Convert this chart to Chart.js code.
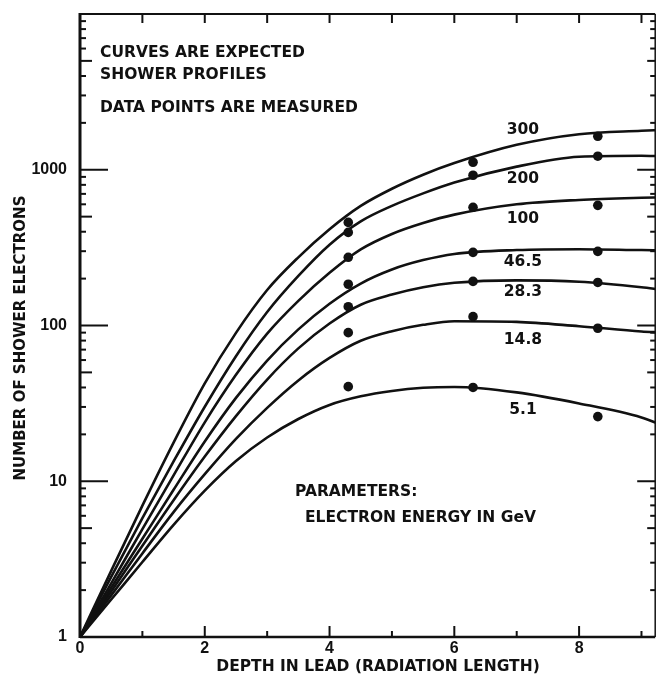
<!DOCTYPE html>
<html>
<head>
<meta charset="utf-8">
<script src="https://cdn.jsdelivr.net/npm/chart.js@4"></script>
<style>
  html, body { margin: 0; padding: 0; background: #fff; }
</style>
</head>
<body>
<canvas id="chart" width="660" height="674"></canvas>
<script>
// =======================
// DATA
// =======================

// depth in lead, radiation lengths
const depth = [0, 0.5, 1, 1.5, 2, 2.5, 3, 3.5, 4, 4.5, 5, 5.5, 6, 7, 8, 9, 9.3];

// expected shower profiles, number of electrons at each depth
const curve300 = [1, 2.66, 6.97, 17.7, 42.5, 89.7, 169, 274, 415, 586, 755, 929, 1104, 1445, 1690, 1778, 1799];
const curve200 = [1, 2.43, 5.79, 13.4, 30.1, 63.5, 122, 208, 330, 466, 586, 705, 828, 1047, 1211, 1230, 1222];
const curve100 = [1, 2.21, 4.93, 10.9, 23.9, 48.2, 88.7, 144, 218, 308, 387, 455, 515, 600, 640, 661, 665];
const curve46 = [1, 2.07, 4.27, 8.81, 18.0, 34.3, 59.6, 94.4, 138, 186, 229, 263, 288, 305, 309, 305, 304];
const curve28 = [1, 1.96, 3.85, 7.55, 14.4, 26.2, 45.0, 71.3, 103, 136, 158, 176, 188, 195, 191, 176, 170];
const curve14 = [1, 1.85, 3.44, 6.34, 11.1, 18.7, 29.6, 44.4, 61.9, 79.8, 92, 101, 106.5, 105.5, 98.9, 91.6, 90.2];
const curve5 = [1, 1.74, 3.03, 5.25, 8.71, 13.5, 19.1, 25.1, 30.9, 35.1, 38.0, 39.8, 40.3, 37.2, 31.6, 25.7, 23.2];

// measured data points
const pointDepth = [4.3, 6.3, 8.3];
const meas300 = [459, 1117, 1641];
const meas200 = [396, 922, 1222];
const meas100 = [274, 574, 591];
const meas46 = [184, 295, 299];
const meas28 = [132, 192, 189];
const meas14 = [90, 114, 96];
const meas5 = [40.5, 40, 26];

// energy labels next to the curves (GeV)
const energies = ["300", "200", "100", "46.5", "28.3", "14.8", "5.1"];
const labelDepth = 7.1;
const labelLevel = [1795, 869, 481, 254, 163, 81.3, 28.8];

const xTicks = [0, 2, 4, 6, 8];
const yTicks = [1, 10, 100, 1000];

const ink = "#111";
const textFont = "bold 15.5px 'DejaVu Sans'";

// =======================
// DATASETS
// =======================

const curves = [curve300, curve200, curve100, curve46, curve28, curve14, curve5];
const measured = [meas300, meas200, meas100, meas46, meas28, meas14, meas5];

let dots = [];
measured.forEach(m => {
  m.forEach((v, i) => dots.push({ x: pointDepth[i], y: v }));
});

let datasets = [{
  label: "measured",
  data: dots,
  pointRadius: 4.8,
  pointBackgroundColor: ink,
  pointBorderColor: ink,
  pointBorderWidth: 0,
  showLine: false
}];

curves.forEach((c, k) => {
  datasets.push({
    label: energies[k] + " GeV",
    data: c.map((v, i) => ({ x: depth[i], y: v })),
    showLine: true,
    pointRadius: 0,
    borderColor: ink,
    borderWidth: 2.6,
    cubicInterpolationMode: "monotone"
  });
});

// =======================
// FRAME, TICKS AND TEXT
// =======================

const frame = {
  id: "frame",
  afterDraw(chart) {
    const { ctx, chartArea: a, scales: { x, y } } = chart;

    function line(x1, y1, x2, y2) {
      ctx.beginPath();
      ctx.moveTo(x1, y1);
      ctx.lineTo(x2, y2);
      ctx.stroke();
    }

    ctx.save();
    ctx.strokeStyle = ink;
    ctx.fillStyle = ink;

    // box
    ctx.lineWidth = 3;
    line(a.left, a.top - 1, a.left, a.bottom + 1);
    ctx.lineWidth = 2.5;
    line(a.left, a.bottom, a.right, a.bottom);
    ctx.lineWidth = 2;
    line(a.left, a.top, a.right, a.top);
    ctx.lineWidth = 1.5;
    line(a.right, a.top, a.right, a.bottom);

    // log ticks, inward on left and right
    ctx.lineWidth = 2;
    for (let d = 1; d < 10000; d *= 10) {
      for (let m = 1; m < 10; m++) {
        let v = d * m;
        if (v == 1) continue;
        let py = y.getPixelForValue(v);
        let left = m == 1 ? 28 : (m == 5 ? 12 : 6);
        let right = m == 1 ? 18 : (m == 5 ? 8 : 5);
        line(a.left, py, a.left + left, py);
        line(a.right, py, a.right - right, py);
      }
    }

    // depth ticks, bottom (up) and top (down)
    for (let i = 1; i <= 9; i++) {
      let px = x.getPixelForValue(i);
      line(px, a.bottom, px, a.bottom - (i % 2 == 0 ? 11 : 6));
      line(px, a.top, px, a.top + 9);
    }

    // energy labels on curves
    ctx.font = textFont;
    ctx.textAlign = "center";
    ctx.textBaseline = "middle";
    energies.forEach((e, k) => {
      ctx.fillText(e, x.getPixelForValue(labelDepth), y.getPixelForValue(labelLevel[k]));
    });

    // notes
    ctx.textAlign = "left";
    ctx.fillText("CURVES ARE EXPECTED", a.left + 20, 53);
    ctx.fillText("SHOWER PROFILES", a.left + 20, 75);
    ctx.fillText("DATA POINTS ARE MEASURED", a.left + 20, 108);
    ctx.fillText("PARAMETERS:", 295, 492);
    ctx.fillText("ELECTRON ENERGY IN GeV", 305, 518);

    // axis titles
    ctx.textAlign = "center";
    ctx.fillText("DEPTH IN LEAD (RADIATION LENGTH)", 378, 667);
    ctx.translate(21.5, 338);
    ctx.rotate(-Math.PI / 2);
    ctx.font = "bold 15px 'DejaVu Sans'";
    ctx.fillText("NUMBER OF SHOWER ELECTRONS", 0, 0);

    ctx.restore();
  }
};

// =======================
// CHART
// =======================

const tickFont = { family: "'Liberation Sans'", size: 16, weight: "bold" };

new Chart(document.getElementById("chart"), {
  type: "scatter",
  data: { datasets: datasets },
  options: {
    responsive: false,
    animation: false,
    devicePixelRatio: 1,
    layout: { padding: { top: 14, right: 1, left: 0, bottom: 0 } },
    plugins: {
      legend: { display: false },
      tooltip: { enabled: false }
    },
    scales: {
      x: {
        type: "linear",
        min: 0,
        max: 9.22,
        grid: { display: false, drawTicks: false },
        border: { display: false },
        afterFit: s => {
          s.height = 37;
          s.paddingLeft = 0;
          s.paddingRight = 0;
        },
        afterBuildTicks: s => { s.ticks = xTicks.map(v => ({ value: v })); },
        ticks: { font: tickFont, color: ink, padding: 2, maxRotation: 0 }
      },
      y: {
        type: "logarithmic",
        min: 1,
        max: 10000,
        grid: { display: false, drawTicks: false },
        border: { display: false },
        afterFit: s => {
          s.width = 80;
          s.paddingTop = 0;
          s.paddingBottom = 0;
        },
        afterBuildTicks: s => { s.ticks = yTicks.map(v => ({ value: v })); },
        ticks: { font: tickFont, color: ink, padding: 13, callback: v => String(v) }
      }
    }
  },
  plugins: [frame]
});
</script>
</body>
</html>
